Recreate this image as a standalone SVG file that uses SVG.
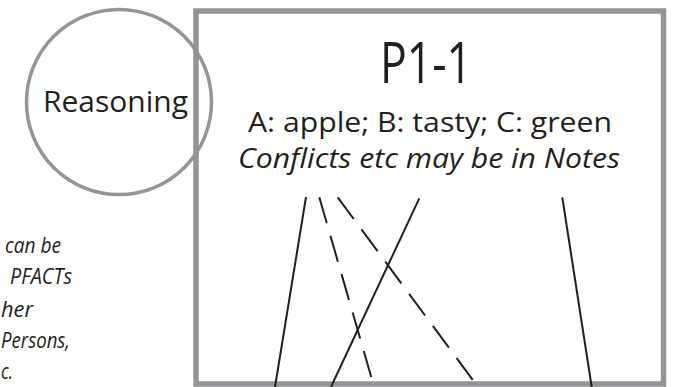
<svg xmlns="http://www.w3.org/2000/svg" width="700" height="387" viewBox="0 0 700 387">
  <style>
    .frame { fill: none; stroke: #939598; }
    .txt { font-family: "Open Sans", "Noto Sans", "Liberation Sans", sans-serif; fill: #231f20; }
    .it { font-style: italic; }
    .side { font-size: 21px; }
    .conn { stroke: #231f20; stroke-width: 2; fill: none; }
    .dash { stroke-dasharray: 27 13; }
  </style>
  <rect width="700" height="387" fill="#ffffff"/>

  <g id="side-note">
    <text class="txt it side" x="5" y="253" textLength="56" lengthAdjust="spacingAndGlyphs">can be</text>
    <text class="txt it side" x="10" y="284" textLength="62" lengthAdjust="spacingAndGlyphs">PFACTs</text>
    <text class="txt it side" x="1" y="317" textLength="32" lengthAdjust="spacingAndGlyphs">her</text>
    <text class="txt it side" x="1" y="348" textLength="69" lengthAdjust="spacingAndGlyphs">Persons,</text>
    <text class="txt it side" x="1" y="379" textLength="12" lengthAdjust="spacingAndGlyphs">c.</text>
  </g>

  <g id="p1-1">
    <rect class="frame" x="196" y="11" width="467.5" height="373" stroke-width="5.5"/>
    <text class="txt" font-size="56" x="380" y="83" textLength="92" lengthAdjust="spacingAndGlyphs">P1-1</text>
    <text class="txt" font-size="28" x="248" y="132" textLength="364" lengthAdjust="spacingAndGlyphs">A: apple; B: tasty; C: green</text>
    <text class="txt it" font-size="27.5" x="238" y="167.5" textLength="382" lengthAdjust="spacingAndGlyphs">Conflicts etc may be in Notes</text>
  </g>

  <g id="reasoning">
    <circle class="frame" cx="119" cy="102" r="92.5" stroke-width="3.5"/>
    <text class="txt" font-size="30" x="43" y="112" textLength="145" lengthAdjust="spacingAndGlyphs">Reasoning</text>
  </g>

  <g id="connectors">
    <line class="conn" x1="306" y1="197" x2="275" y2="387"/>
    <line class="conn dash" x1="319.3" y1="197.3" x2="372.7" y2="382"/>
    <line class="conn dash" x1="337.7" y1="197.3" x2="474.3" y2="382"/>
    <line class="conn" x1="419.3" y1="198.3" x2="331" y2="387"/>
    <line class="conn" x1="562.3" y1="197.3" x2="591.7" y2="387"/>
  </g>
</svg>
